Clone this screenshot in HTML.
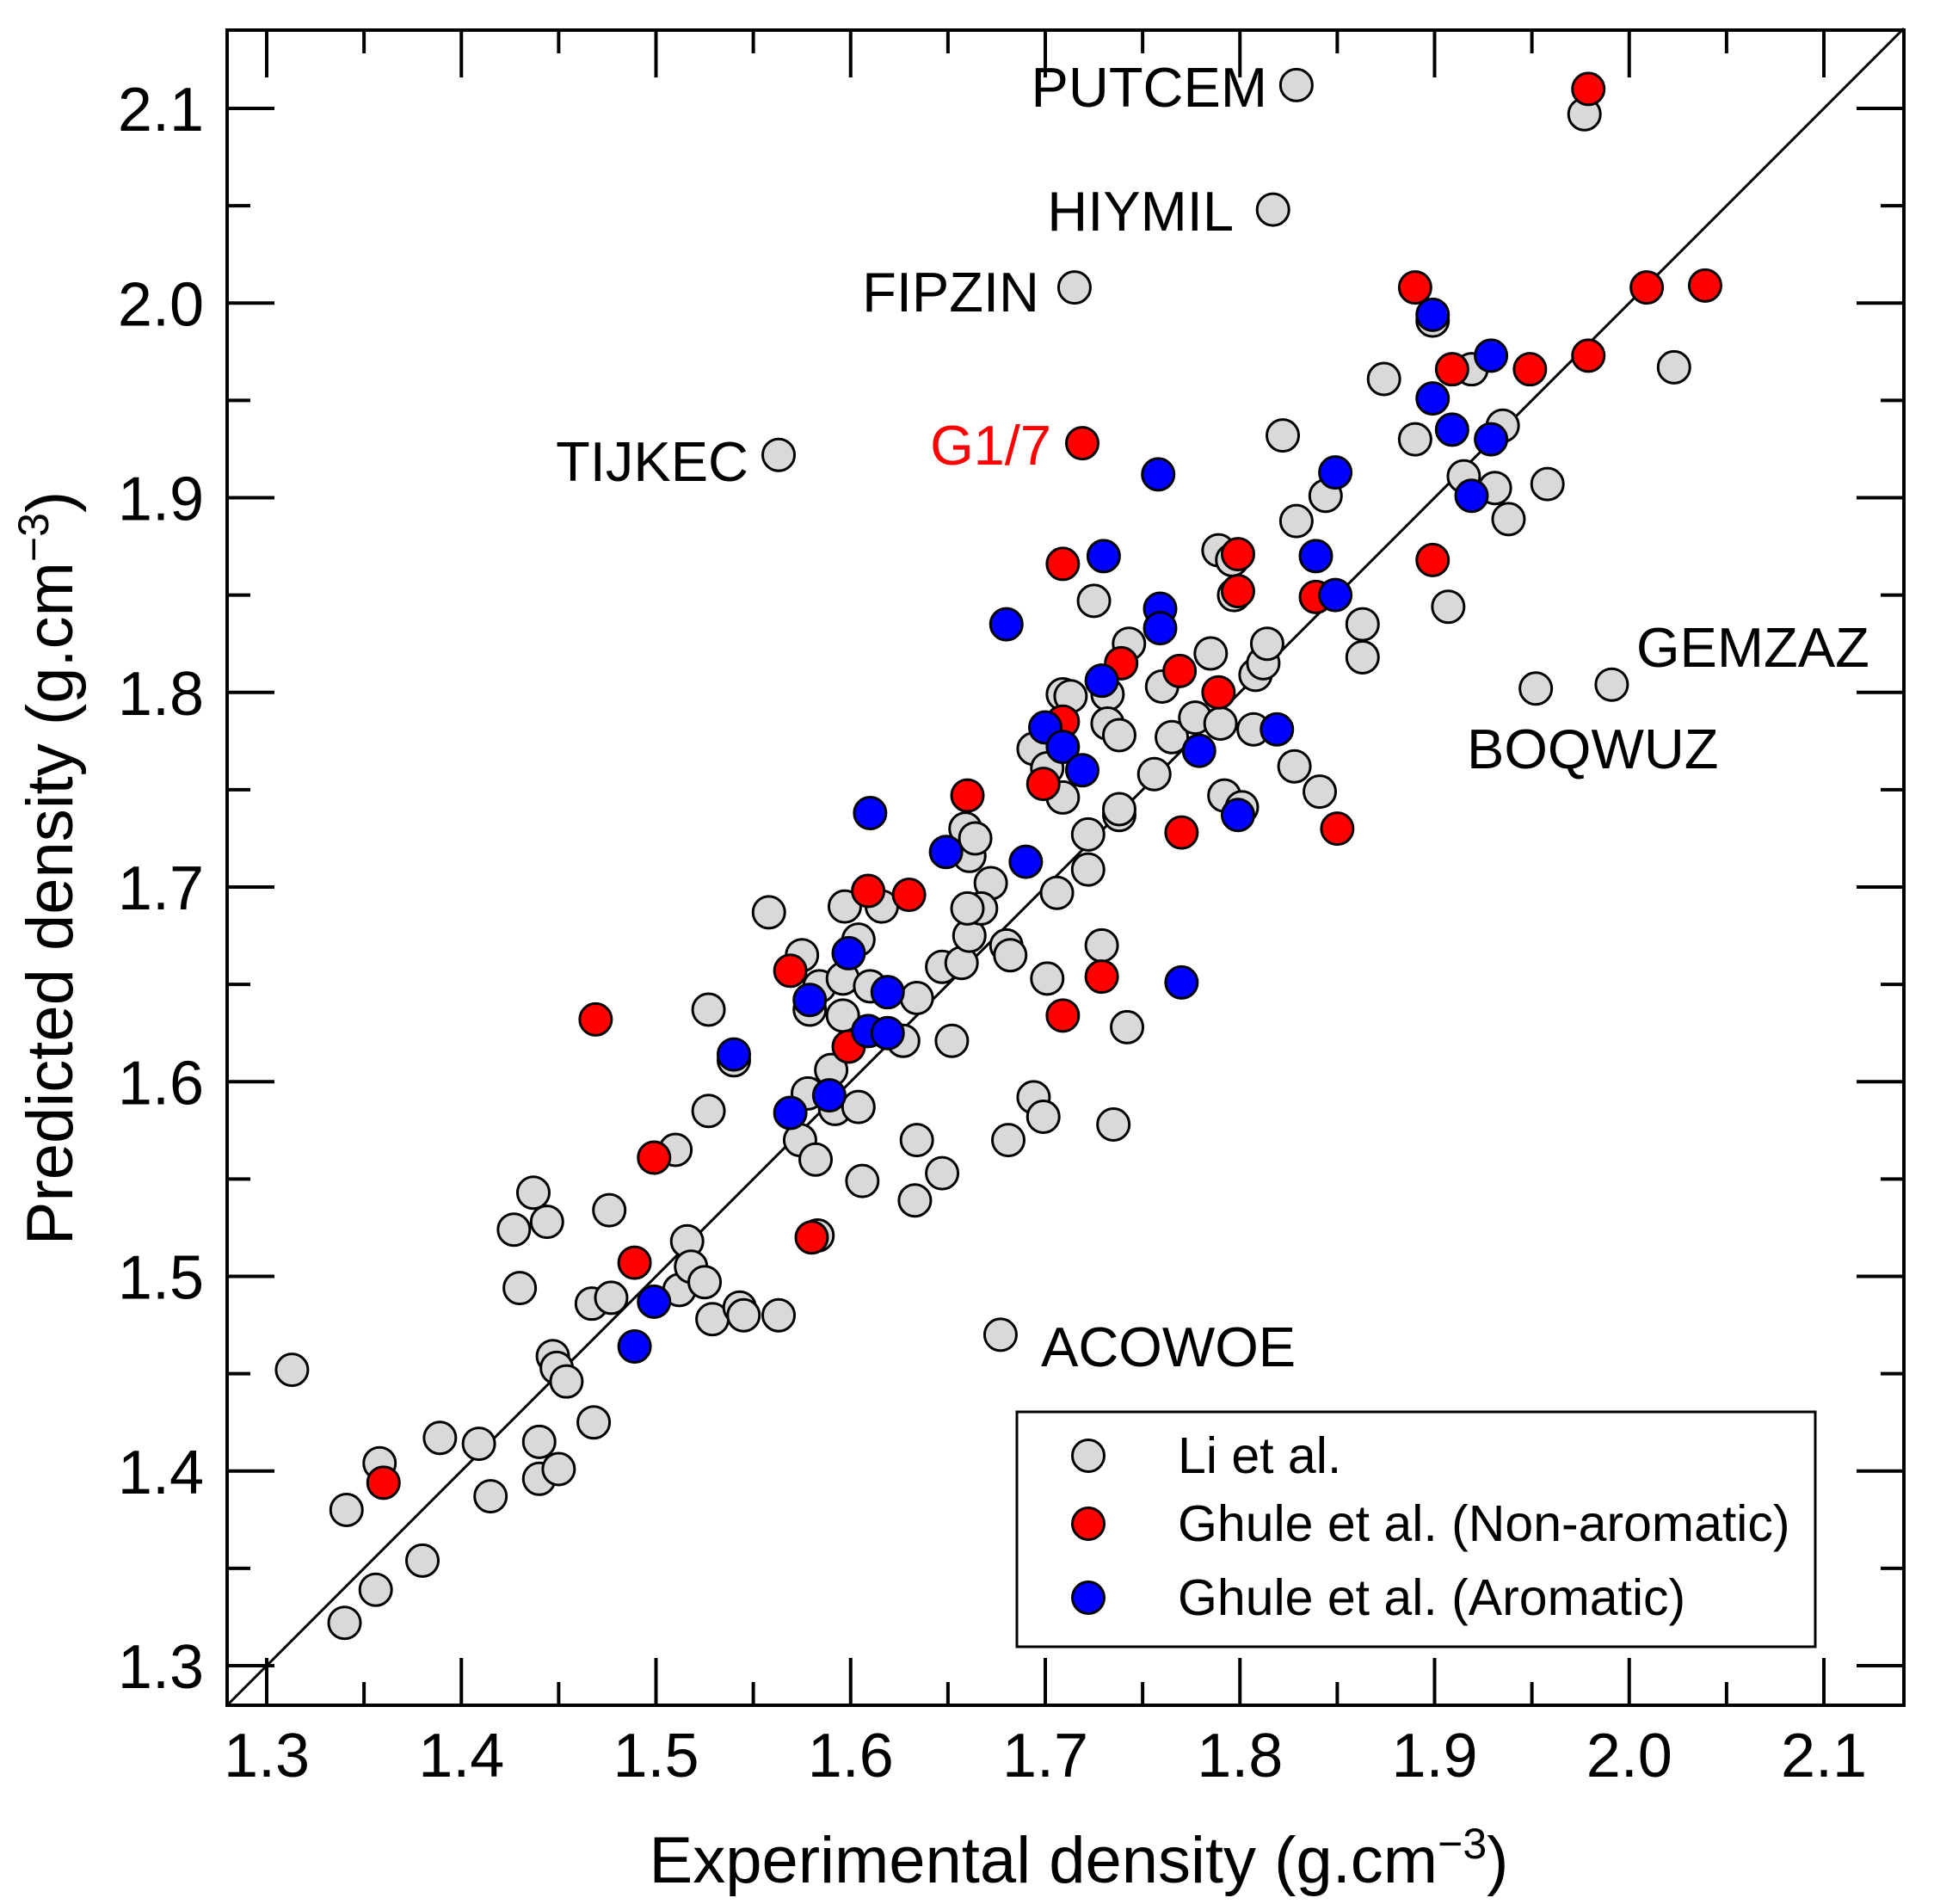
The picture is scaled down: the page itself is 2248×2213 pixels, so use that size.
<!DOCTYPE html>
<html><head><meta charset="utf-8"><style>
html,body{margin:0;padding:0;background:#fff}
svg{display:block;font-family:"Liberation Sans",Arial,sans-serif}
</style></head><body>
<svg id="chart" width="2248" height="2213" viewBox="0 0 2248 2213" xmlns="http://www.w3.org/2000/svg">
<rect x="0" y="0" width="2248" height="2213" fill="#fff"/>
<g id="ticks"></g>
<line id="diag" stroke="#000" stroke-width="3"/>
<g id="points"></g>
<rect x="264" y="35" width="1949" height="1947" fill="none" stroke="#000" stroke-width="4"/>
<g font-size="65" fill="#000">
<text x="1473" y="124" text-anchor="end">PUTCEM</text>
<text x="1434" y="268" text-anchor="end">HIYMIL</text>
<text x="1208" y="362" text-anchor="end">FIPZIN</text>
<text x="870" y="559" text-anchor="end">TIJKEC</text>
<text x="1222" y="540" text-anchor="end" fill="#ff0000">G1/7</text>
<text x="1902" y="775">GEMZAZ</text>
<text x="1705" y="893">BOQWUZ</text>
<text x="1210" y="1588">ACOWOE</text>
</g>
<g>
<rect x="1182" y="1641" width="928" height="273" fill="#fff" stroke="#000" stroke-width="3"/>
<circle cx="1265" cy="1692" r="18.5" fill="#d9d9d9" stroke="#000" stroke-width="3"/>
<circle cx="1265" cy="1771" r="18.5" fill="#ff0000" stroke="#000" stroke-width="3"/>
<circle cx="1265" cy="1857" r="18.5" fill="#0000ff" stroke="#000" stroke-width="3"/>
<g font-size="59">
<text x="1369" y="1712">Li et al.</text>
<text x="1369" y="1791">Ghule et al. (Non-aromatic)</text>
<text x="1369" y="1877">Ghule et al. (Aromatic)</text>
</g></g>
<text x="1254" y="2188" font-size="76" text-anchor="middle">Experimental density (g.cm<tspan dy="-28" font-size="50">−3</tspan><tspan dy="28">)</tspan></text>
<text transform="translate(84,1009) rotate(-90)" font-size="76" text-anchor="middle">Predicted density (g.cm<tspan dy="-28" font-size="50">−3</tspan><tspan dy="28">)</tspan></text>
</svg>
<script>
const tickLabels=["1.3","1.4","1.5","1.6","1.7","1.8","1.9","2.0","2.1"];
const liX=[1.313,1.341,1.358,1.356,1.340,1.380,1.389,1.409,1.415,1.427,1.430,1.437,1.444,1.440,1.440,1.447,1.449,1.450,1.454,1.468,1.467,1.476,1.477,1.510,1.512,1.516,1.518,1.525,1.529,1.527,1.527,1.540,1.543,1.545,1.563,1.558,1.563,1.574,1.578,1.582,1.583,1.590,1.592,1.604,1.606,1.597,1.604,1.616,1.575,1.584,1.596,1.579,1.596,1.610,1.627,1.634,1.634,1.633,1.647,1.652,1.647,1.657,1.661,1.659,1.661,1.664,1.672,1.667,1.660,1.680,1.682,1.681,1.694,1.699,1.701,1.706,1.694,1.701,1.709,1.709,1.713,1.715,1.722,1.722,1.725,1.729,1.732,1.732,1.738,1.735,1.742,1.738,1.738,1.743,1.756,1.760,1.765,1.777,1.785,1.789,1.790,1.792,1.796,1.797,1.801,1.807,1.808,1.812,1.814,1.817,1.822,1.829,1.829,1.828,1.841,1.844,1.863,1.863,1.874,1.890,1.899,1.907,1.915,1.919,1.931,1.935,1.938,1.958,1.952,1.991,2.023,1.977,1.677];
const liY=[1.452,1.380,1.404,1.339,1.322,1.354,1.417,1.414,1.387,1.524,1.494,1.543,1.528,1.415,1.396,1.459,1.453,1.401,1.446,1.425,1.486,1.534,1.489,1.565,1.493,1.518,1.505,1.497,1.478,1.637,1.585,1.611,1.484,1.480,1.480,1.687,1.922,1.570,1.594,1.560,1.521,1.606,1.586,1.587,1.549,1.690,1.673,1.690,1.665,1.649,1.653,1.637,1.634,1.649,1.621,1.643,1.570,1.539,1.553,1.621,1.659,1.661,1.675,1.730,1.716,1.725,1.702,1.689,1.689,1.670,1.665,1.570,1.592,1.582,1.653,1.697,1.771,1.761,1.746,1.799,1.798,2.008,1.709,1.727,1.847,1.670,1.799,1.784,1.778,1.578,1.628,1.737,1.740,1.825,1.758,1.803,1.777,1.787,1.820,1.873,1.784,1.747,1.868,1.850,1.741,1.781,1.809,1.815,1.825,2.048,1.932,1.888,2.112,1.762,1.749,1.901,1.835,1.818,1.961,1.930,1.991,1.844,1.911,1.966,1.905,1.937,1.889,1.907,1.802,1.804,1.967,2.097,1.470];
const nonAroX=[1.360,1.469,1.489,1.499,1.580,1.569,1.599,1.609,1.630,1.660,1.699,1.709,1.709,1.709,1.719,1.729,1.739,1.769,1.770,1.789,1.799,1.799,1.839,1.850,1.890,1.899,1.909,1.949,1.979,1.979,2.009,2.039];
const nonAroY=[1.394,1.632,1.507,1.561,1.520,1.657,1.618,1.698,1.696,1.747,1.753,1.785,1.634,1.866,1.928,1.654,1.815,1.811,1.728,1.800,1.871,1.852,1.849,1.730,2.008,1.868,1.966,1.966,2.110,1.973,2.008,2.009];
const aroX=[1.489,1.499,1.540,1.569,1.579,1.589,1.599,1.609,1.619,1.619,1.610,1.649,1.690,1.680,1.700,1.709,1.719,1.729,1.730,1.758,1.759,1.759,1.770,1.779,1.799,1.819,1.839,1.849,1.849,1.899,1.899,1.909,1.919,1.929,1.929];
const aroY=[1.464,1.487,1.614,1.584,1.642,1.593,1.666,1.626,1.625,1.646,1.738,1.718,1.713,1.835,1.782,1.772,1.760,1.806,1.870,1.912,1.843,1.833,1.651,1.770,1.737,1.781,1.870,1.913,1.850,1.994,1.951,1.935,1.901,1.930,1.973];
const NS="http://www.w3.org/2000/svg";
const X0=264,X1=2213,Y0=35,Y1=1982;
function sx(v){return 310+(v-1.3)*2262.5;}
function sy(v){return 1936-(v-1.3)*2262.5;}
const tk=document.getElementById('ticks');
function ln(x1,y1,x2,y2,name){const l=document.createElementNS(NS,'line');l.setAttribute('x1',x1);l.setAttribute('y1',y1);l.setAttribute('x2',x2);l.setAttribute('y2',y2);l.setAttribute('stroke','#000');l.setAttribute('stroke-width','4');


tk.appendChild(l);}
for(let i=0;i<=16;i++){const v=1.3+i*0.05;const len=(i%2==0)?55:27;const px=sx(v),py=sy(v);
ln(px,Y1,px,Y1-len,'x-tick');ln(px,Y0,px,Y0+len,'x-tick-top');ln(X0,py,X0+len,py,'y-tick');ln(X1,py,X1-len,py,'y-tick-right');}
tickLabels.forEach((t,i)=>{const v=1.3+i*0.1;
const a=document.createElementNS(NS,'text');a.setAttribute('x',sx(v));a.setAttribute('y',2065);a.setAttribute('text-anchor','middle');a.setAttribute('font-size','72');a.textContent=t;


tk.appendChild(a);
const b=document.createElementNS(NS,'text');b.setAttribute('x',237);b.setAttribute('y',sy(v)+26);b.setAttribute('text-anchor','end');b.setAttribute('font-size','72');b.textContent=t;


tk.appendChild(b);});
const d=document.getElementById('diag');
d.setAttribute('x1',X0);d.setAttribute('y1',sy(1.3-(310-X0)/2262.5));d.setAttribute('x2',X1);d.setAttribute('y2',sy(1.3+(X1-310)/2262.5));
const pg=document.getElementById('points');
function plot(xs,ys,fill,name){xs.forEach((x,i)=>{const c=document.createElementNS(NS,'circle');c.setAttribute('cx',sx(x));c.setAttribute('cy',sy(ys[i]));c.setAttribute('r','18.5');c.setAttribute('fill',fill);c.setAttribute('stroke','#000');c.setAttribute('stroke-width','3');


pg.appendChild(c);});}
plot(liX,liY,'#d9d9d9','point-li');
plot(nonAroX,nonAroY,'#ff0000','point-nonaromatic');
plot(aroX,aroY,'#0000ff','point-aromatic');
</script>
</body></html>
